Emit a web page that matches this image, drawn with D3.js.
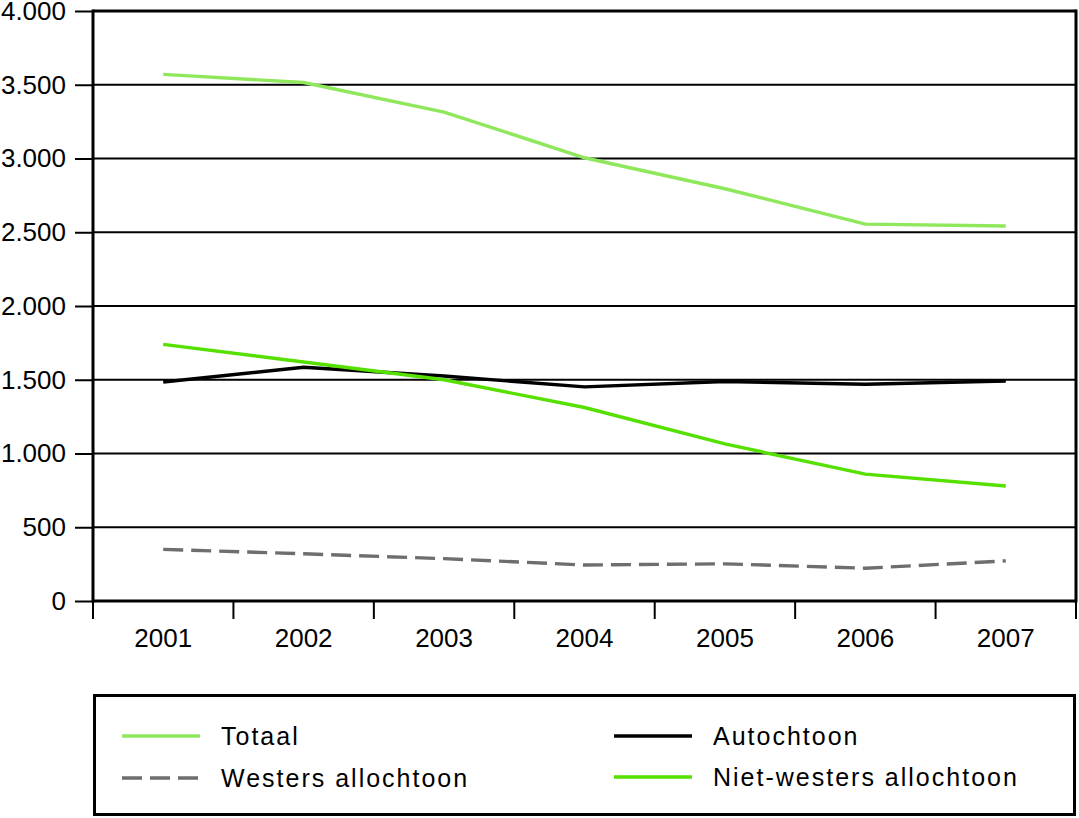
<!DOCTYPE html>
<html><head><meta charset="utf-8">
<script src="https://cdn.jsdelivr.net/npm/d3@7/dist/d3.min.js"></script>
<style>body{margin:0;background:#fff;} text{font-family:"Liberation Sans",Arial,sans-serif;}</style>
</head><body>
<svg id="c" width="1079" height="818"></svg>
<script>
const years = ["2001","2002","2003","2004","2005","2006","2007"];
const totaal = [3570, 3515, 3315, 3005, 2795, 2555, 2542];
const autochtoon = [1485, 1585, 1525, 1452, 1488, 1470, 1492];
const westers = [350, 320, 287, 244, 252, 222, 272];
const nietWesters = [1740, 1620, 1500, 1312, 1065, 860, 780];
const yTicks = [0, 500, 1000, 1500, 2000, 2500, 3000, 3500, 4000];
const series = [
  {name:"Totaal", values: totaal, color:"#8fe85c", dash:null},
  {name:"Autochtoon", values: autochtoon, color:"#000000", dash:null},
  {name:"Westers allochtoon", values: westers, color:"#6e6e6e", dash:"20,8"},
  {name:"Niet-westers allochtoon", values: nietWesters, color:"#55e000", dash:null}
];
const fmt = v => d3.format(",")(v).replace(/,/g, ".");

const svg = d3.select("#c");
const L = 93, R = 1076, T = 11, B = 601;
const x = d3.scaleBand().domain(years).range([L, R]);
const y = d3.scaleLinear().domain([0, 4000]).range([B, T]);

// gridlines
svg.append("g").selectAll("line").data(yTicks).join("line")
  .attr("x1", L).attr("x2", R).attr("y1", d => y(d)).attr("y2", d => y(d))
  .attr("stroke", "#000").attr("stroke-width", d => (d === 0 || d === 4000) ? 3 : 2);

// y axis
const ya = svg.append("g").attr("transform", `translate(${L},0)`)
  .call(d3.axisLeft(y).tickValues(yTicks).tickFormat(fmt).tickSize(18).tickPadding(9));
ya.select(".domain").remove();
ya.selectAll(".tick line").attr("stroke", "#000").attr("stroke-width", 2);
ya.selectAll(".tick text").attr("font-size", 26).attr("fill", "#000")
  .attr("font-family", "'Liberation Sans',Arial,sans-serif");

// x axis boundary ticks
const bounds = years.map(d => x(d)).concat([R]);
svg.append("g").selectAll("line").data(bounds).join("line")
  .attr("x1", d => d).attr("x2", d => d).attr("y1", B).attr("y2", B + 18)
  .attr("stroke", "#000").attr("stroke-width", 2);
svg.append("g").selectAll("text").data(years).join("text")
  .attr("x", d => x(d) + x.bandwidth() / 2).attr("y", 647)
  .attr("text-anchor", "middle").attr("font-size", 26).attr("fill", "#000").text(d => d);

// frame
svg.append("line").attr("x1", L).attr("x2", L).attr("y1", T - 1.5).attr("y2", B + 1.5)
  .attr("stroke", "#000").attr("stroke-width", 3);
svg.append("line").attr("x1", R).attr("x2", R).attr("y1", T - 1.5).attr("y2", B + 1.5)
  .attr("stroke", "#000").attr("stroke-width", 3);

// lines
const line = d3.line().x((d, i) => x(years[i]) + x.bandwidth() / 2).y(d => y(d));
const drawOrder = [series[2], series[1], series[3], series[0]];
svg.append("g").selectAll("path").data(drawOrder).join("path")
  .attr("d", d => line(d.values)).attr("fill", "none")
  .attr("stroke", d => d.color).attr("stroke-width", 3.4)
  .attr("stroke-dasharray", d => d.dash);

// legend
svg.append("rect").attr("x", 94.5).attr("y", 695.5).attr("width", 980).attr("height", 119)
  .attr("fill", "none").attr("stroke", "#000").attr("stroke-width", 3);
const legPos = [
  {s: series[0], lx: 122, ly: 736},
  {s: series[1], lx: 614, ly: 736},
  {s: series[2], lx: 122, ly: 778},
  {s: series[3], lx: 614, ly: 777}
];
const lg = svg.append("g").selectAll("g").data(legPos).join("g");
lg.append("line").attr("x1", d => d.lx).attr("x2", d => d.lx + 78)
  .attr("y1", d => d.ly).attr("y2", d => d.ly)
  .attr("stroke", d => d.s.color).attr("stroke-width", 3.4)
  .attr("stroke-dasharray", d => d.s.dash);
lg.append("text").attr("x", d => d.lx + 99).attr("y", d => d.ly + 9)
  .attr("font-size", 25).attr("letter-spacing", 2).attr("fill", "#000").text(d => d.s.name);
</script>
</body></html>
